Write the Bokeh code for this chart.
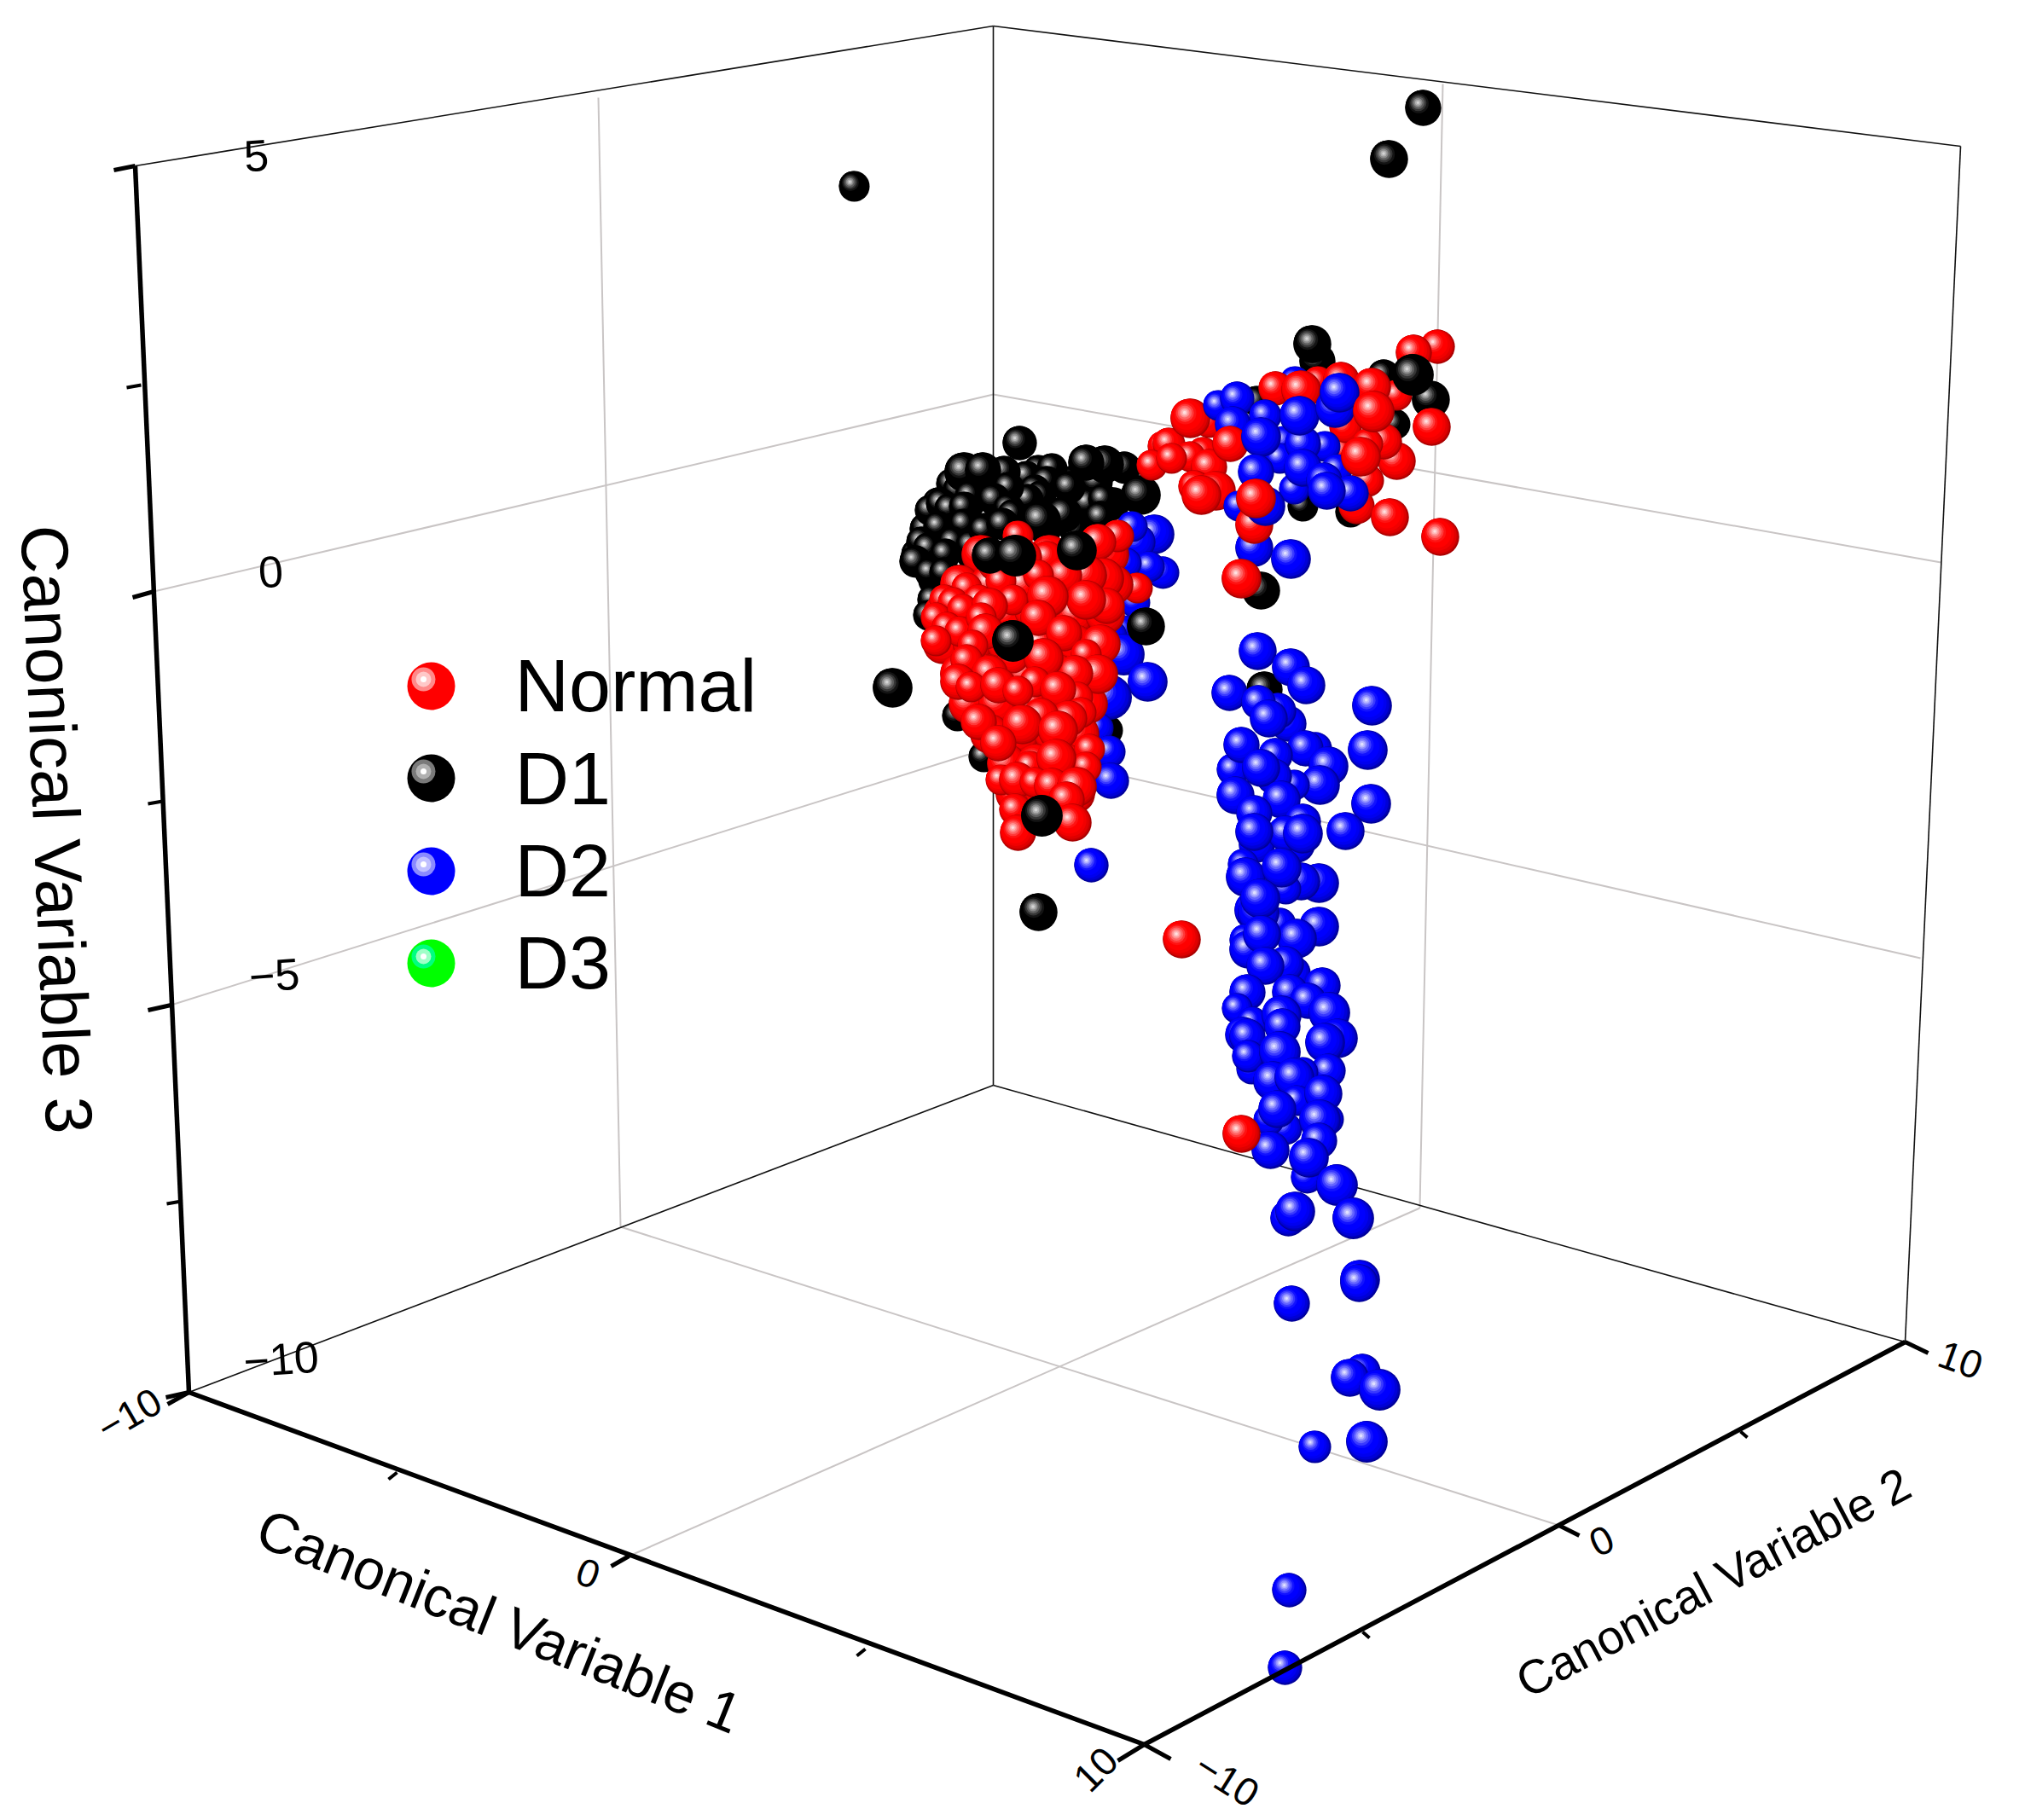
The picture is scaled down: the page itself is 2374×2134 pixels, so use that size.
from bokeh.plotting import figure
from bokeh.models import Range1d
from bokeh.core.properties import value
from bokeh.embed import file_html
from bokeh.resources import INLINE

FONT = "Liberation Sans"
# Projected positions of the spheres on the picture plane (x, y, apparent radius), back to front.
d1_fill_x = [1125,1160,1195,1225,1255,1285,1100,1135,1170,1205,1240,1275,1305,1085,1120,1155,1190,1225,1260,1290,1075,1105,1140,1095,1130]
d1_fill_y = [565,565,565,565,565,565,590,590,590,590,590,590,590,620,620,620,620,620,620,620,650,650,650,680,680]
d1_fill_r = [18,18,18,18,18,18,18,18,18,18,18,18,18,18,18,18,18,18,18,18,18,18,18,18,18]
d1_back_x = [1195,1217,1203,1233,1227,1213,1220,1205,1318,1295,1273,1253,1293,1177,1115,1123,1130,1152,1182,1137,1165,1090,1103,1113,1130,1182,1187,1100,1130,1080,1088,1117,1138,1153,1108,1073,1090,1107,1175,1247,1290,1220,1093,1088,1122,1153,1298,1337]
d1_back_y = [519,551,558,549,564,574,581,585,548,544,542,571,585,553,567,574,553,551,571,581,585,598,590,596,594,596,603,617,614,635,642,635,639,621,649,658,671,671,614,603,606,610,703,721,839,887,856,580]
d1_back_r = [19,13,12,17,15,12,13,12,18,21,20,18,17,18,15,15,22,20,15,17,18,15,15,13,17,17,13,15,17,13,13,13,13,15,15,18,13,17,18,20,18,22,13,10,17,17,10,22]
d2_left_x = [1353,1333,1327,1363,1347,1320,1330,1317,1300,1317,1345,1300,1287,1300,1302,1279]
d2_left_y = [626,635,617,671,664,660,706,739,746,767,799,817,853,881,915,1014]
d2_left_r = [22,20,17,18,17,13,13,10,20,23,22,25,13,18,20,19]
d1_mid_x = [1343]
d1_mid_y = [734]
d1_mid_r = [21]
normal_tip_x = [1333]
normal_tip_y = [689]
normal_tip_r = [13]
normal_fill_x = [1150,1190,1230,1270,1300,1125,1160,1200,1240,1280,1305,1105,1140,1180,1220,1260,1295,1105,1140,1180,1220,1260,1290,1125,1160,1200,1240,1280,1135,1170,1210,1250,1275,1160,1195,1235,1265,1180,1215,1250,1190,1225,1260]
normal_fill_y = [650,650,650,650,650,685,685,685,685,685,685,720,720,720,720,720,720,755,755,755,755,755,755,790,790,790,790,790,825,825,825,825,825,860,860,860,860,895,895,895,930,930,930]
normal_fill_r = [22,22,22,22,22,22,22,22,22,22,22,22,22,22,22,22,22,22,22,22,22,22,22,22,22,22,22,22,22,22,22,22,22,22,22,22,22,22,22,22,22,22,22]
normal_main_x = [1193,1310,1287,1227,1200,1167,1293,1273,1247,1217,1173,1297,1273,1207,1187,1228,1133,1107,1117,1097,1147,1128,1160,1110,1125,1097,1150,1217,1247,1155,1140,1133,1273,1287,1260,1187,1160,1223,1123,1138,1170,1213,1193,1263,1240,1267,1253,1220,1147,1198,1240,1170,1277,1207,1273,1238,1173,1192,1213,1233,1262,1250,1190,1257,1193]
normal_main_y = [628,628,635,653,653,660,678,674,674,674,681,710,703,717,703,699,689,703,706,724,703,714,710,735,740,751,724,724,742,740,756,774,767,790,789,771,789,771,799,805,803,799,810,817,808,835,842,839,846,849,856,871,878,898,899,889,914,914,917,921,922,937,949,964,976]
normal_main_r = [13,18,20,18,20,20,23,23,20,17,15,20,22,17,17,23,17,17,13,12,17,12,20,13,12,13,13,20,20,20,17,18,17,22,20,17,20,22,20,17,20,17,17,13,20,13,20,20,20,22,22,20,15,12,17,22,15,20,13,20,22,20,18,21,20]
d1_front_x = [1187,1160,1190,1262,1221,1046,1217]
d1_front_y = [751,651,651,645,956,806,1069]
d1_front_r = [23,20,23,22,23,22,21]
d1_top_x = [1001,1668,1628]
d1_top_y = [218,126,186]
d1_top_r = [17,20,21]
d1_right_x = [1544,1538,1622,1677,1635,1527,1583,1478,1473]
d1_right_y = [423,403,440,468,497,593,600,692,470]
d1_right_r = [20,21,18,21,10,15,17,21,12]
d2_upper_back_x = [1518]
d2_upper_back_y = [447]
d2_upper_back_r = [17]
normal_upper_back_x = [1545,1572,1495,1525,1637,1417,1363,1370,1410,1395,1350,1373,1417,1400,1425,1408,1395,1573,1577,1637,1622,1603,1603,1590]
normal_upper_back_y = [447,445,455,457,463,495,523,520,530,535,545,537,547,570,575,580,490,528,500,540,517,520,563,593]
normal_upper_back_r = [17,20,19,22,17,12,15,18,17,12,14,17,20,18,22,22,22,13,18,21,20,17,18,20]
d2_upper_a_x = [1428,1450,1445,1452]
d2_upper_a_y = [475,467,497,593]
d2_upper_a_r = [17,19,20,13]
normal_upper_a_x = [1442]
normal_upper_a_y = [520]
normal_upper_a_r = [20]
d2_upper_b_x = [1505,1500,1553,1483,1478,1472,1517,1527,1527,1523,1567]
d2_upper_b_y = [517,537,523,487,512,553,573,520,548,487,550]
d2_upper_b_r = [13,12,13,18,22,20,17,20,21,22,17]
normal_upper_b_x = [1608]
normal_upper_b_y = [453]
normal_upper_b_r = [21]
d2_upper_c_x = [1565,1570]
d2_upper_c_y = [478,460]
d2_upper_c_r = [22,22]
normal_upper_c_x = [1610,1595]
normal_upper_c_y = [482,535]
normal_upper_c_r = [23,22]
d2_upper_d_x = [1552,1583,1555,1470,1513]
d2_upper_d_y = [563,578,575,642,655]
d2_upper_d_r = [20,20,21,21,22]
normal_upper_d_x = [1470]
normal_upper_d_y = [615]
normal_upper_d_r = [21]
d2_upper_e_x = [1483]
d2_upper_e_y = [593]
d2_upper_e_r = [22]
normal_upper_e_x = [1472,1685,1657]
normal_upper_e_y = [584,406,413]
normal_upper_e_r = [22,19,20]
d1_upper_front_x = [1656]
d1_upper_front_y = [439]
d1_upper_front_r = [23]
normal_upper_f_x = [1678,1629,1688,1455,1385]
normal_upper_f_y = [500,606,629,678,1101]
normal_upper_f_r = [21,21,21,22,21]
d1_column_x = [1482]
d1_column_y = [808]
d1_column_r = [20]
d2_column_x = [1474,1513,1531,1441,1608,1603,1607,1577,1510,1498,1475,1487,1542,1530,1557,1547,1495,1517,1445,1455,1493,1478,1448,1502,1470,1473,1520,1527,1507,1527,1470,1546,1525,1507,1457,1460,1502,1470,1500,1475,1477,1546,1460,1463,1520,1479,1517,1507,1483,1550,1512,1462,1450,1533,1558,1468,1568,1502,1503,1457,1462,1553,1467,1463,1500,1557,1527,1492,1517,1520,1551,1557,1507,1487,1547,1497,1546,1489,1532,1534,1567,1510,1518,1586,1594,1593,1514,1597,1582,1617,1541,1602,1511,1506]
d2_column_y = [763,782,803,812,827,879,942,974,848,833,823,842,877,877,898,920,885,920,902,873,910,900,932,937,953,990,990,963,977,977,975,1035,1033,1042,1013,1028,1017,1067,1083,1070,1053,1086,1102,1113,1100,1095,1140,1130,1132,1155,1163,1163,1182,1173,1187,1198,1217,1190,1203,1213,1215,1222,1253,1238,1233,1255,1257,1267,1263,1290,1282,1312,1323,1313,1313,1300,1337,1348,1380,1357,1389,1428,1420,1428,1500,1504,1528,1608,1615,1629,1696,1690,1864,1955]
d2_column_r = [21,21,21,20,22,22,22,21,20,20,19,21,18,20,22,22,19,15,18,20,20,21,21,21,20,20,20,20,20,22,21,22,21,17,13,22,22,22,18,23,22,22,18,21,22,21,18,20,21,20,20,20,17,20,23,17,22,22,20,20,20,22,17,18,23,19,17,22,22,17,21,17,18,17,23,21,20,21,18,22,23,20,22,23,22,21,20,20,21,23,18,23,19,19]
normal_low_x = [1455]
normal_low_y = [1329]
normal_low_r = [21]

legend_labels = ["Normal", "D1", "D2", "D3"]
legend_marker_x = [505, 505, 505, 505]
legend_marker_y = [804, 912, 1021, 1129]
legend_label_x = [603, 603, 603, 603]
legend_label_y = [803, 912, 1020, 1128]

# Frame of the 3D box
thick_x = [[158,221],[221,1341],[1341,2233]]
thick_y = [[194,1632],[1632,2045],[2045,1573]]
thin_x = [[158,1164],[1164,2298],[1164,1164],[2298,2233],[221,1164],[1164,2233]]
thin_y = [[194,30],[30,171],[30,1272],[171,1573],[1632,1272],[1272,1573]]
grid_x = [[180,1164],[200,1164],[1164,2275],[1164,2251],[701,727],[1691,1664],[737,1664],[1827,727]]
grid_y = [[693,462],[1178,875],[462,659],[875,1123],[114,1438],[98,1416],[1824,1416],[1788,1438]]
tick_major_x = [[133,158],[155,180],[173,200],[194,221],[196,221],[716,737],[1310,1341],[1341,1372],[1827,1851],[2233,2260]]
tick_major_y = [[199,194],[700,693],[1184,1178],[1638,1632],[1646,1632],[1836,1824],[2064,2045],[2045,2062],[1788,1800],[1573,1586]]
tick_minor_x = [[148,165],[173,190],[195,212],[455,465],[1004,1014],[1597,1605],[2040,2048]]
tick_minor_y = [[454,451],[942,939],[1411,1408],[1734,1726],[1941,1933],[1913,1920],[1678,1685]]

z_tick_text = ["5", "0", "\u22125", "\u221210"]
z_tick_x = [300, 317, 321, 329]
z_tick_y = [182, 670, 1143, 1593]
x_tick_text = ["\u221210", "0", "10"]
x_tick_x = [151, 689, 1284]
x_tick_y = [1658, 1844, 2074]
y_tick_text = ["\u221210", "0", "10"]
y_tick_x = [1438, 1877, 2298]
y_tick_y = [2086, 1806, 1594]

axis_titles = ["Canonical Variable 1", "Canonical Variable 2", "Canonical Variable 3"]
axis_title_x = [585, 2008, 66]
axis_title_y = [1900, 1855, 972]
axis_title_angle = [-21.7, 27.8, -87.6]
axis_title_size = ["66px", "56px", "78px"]

SHADES = {
    "normal": ["#a80000","#c80000","#e00000","#f20000","#ff0000","#ff1212","#ff3a3a","#ff6464","#ff9090","#ffb8b8","#ffe0e0"],
    "d1": ["#000000","#000000","#000000","#000000","#000000","#141414","#363636","#5e5e5e","#8a8a8a","#b0b0b0","#d4d4d4"],
    "d2": ["#000098","#0000b8","#0000d8","#0000f0","#0000ff","#1212ff","#3a3aff","#6464ff","#9090ff","#b8b8ff","#e0e0ff"],
}
LAYER_SIZE = [1.0, 0.96, 0.92, 0.85, 0.75, 0.55, 0.45, 0.35, 0.25, 0.16, 0.08]
LAYER_SHIFT = [0.0, 0.03, 0.06, 0.12, 0.17, 0.25, 0.27, 0.28, 0.29, 0.29, 0.29]
MIN_RADIUS = 17
RADIUS_GAIN = 1.06

order = [
    ("d1", d1_top_x, d1_top_y, d1_top_r),
    ("d1", d1_fill_x, d1_fill_y, d1_fill_r),
    ("d1", d1_back_x, d1_back_y, d1_back_r),
    ("d2", d2_left_x, d2_left_y, d2_left_r),
    ("d1", d1_mid_x, d1_mid_y, d1_mid_r),
    ("normal", normal_tip_x, normal_tip_y, normal_tip_r),
    ("normal", normal_fill_x, normal_fill_y, normal_fill_r),
    ("normal", normal_main_x, normal_main_y, normal_main_r),
    ("d1", d1_front_x, d1_front_y, d1_front_r),
    ("d1", d1_right_x, d1_right_y, d1_right_r),
    ("d2", d2_upper_back_x, d2_upper_back_y, d2_upper_back_r),
    ("normal", normal_upper_back_x, normal_upper_back_y, normal_upper_back_r),
    ("d2", d2_upper_a_x, d2_upper_a_y, d2_upper_a_r),
    ("normal", normal_upper_a_x, normal_upper_a_y, normal_upper_a_r),
    ("d2", d2_upper_b_x, d2_upper_b_y, d2_upper_b_r),
    ("normal", normal_upper_b_x, normal_upper_b_y, normal_upper_b_r),
    ("d2", d2_upper_c_x, d2_upper_c_y, d2_upper_c_r),
    ("normal", normal_upper_c_x, normal_upper_c_y, normal_upper_c_r),
    ("d2", d2_upper_d_x, d2_upper_d_y, d2_upper_d_r),
    ("normal", normal_upper_d_x, normal_upper_d_y, normal_upper_d_r),
    ("d2", d2_upper_e_x, d2_upper_e_y, d2_upper_e_r),
    ("normal", normal_upper_e_x, normal_upper_e_y, normal_upper_e_r),
    ("d1", d1_upper_front_x, d1_upper_front_y, d1_upper_front_r),
    ("normal", normal_upper_f_x, normal_upper_f_y, normal_upper_f_r),
    ("d1", d1_column_x, d1_column_y, d1_column_r),
    ("d2", d2_column_x, d2_column_y, d2_column_r),
    ("normal", normal_low_x, normal_low_y, normal_low_r),
]

p = figure(width=2358, height=2126, x_range=Range1d(0, 2358), y_range=Range1d(2126, 0),
           x_axis_type=None, y_axis_type=None, toolbar_location=None, output_backend="svg",
           min_border=0, outline_line_color=None, background_fill_color="white")
p.grid.visible = False

p.multi_line(grid_x, grid_y, line_color="#c9c5c5", line_width=2)
p.multi_line(thin_x, thin_y, line_color="#111111", line_width=1.6)

LEG = [("normal", "#ff0000", "#ff8a8a", "#ffc8c8"), ("d1", "#000000", "#7a7a7a", "#b0b0b0"),
       ("d2", "#0000ff", "#8a8aff", "#c0c0ff"), ("d3", "#00ff00", "#00ff80", "#a0ffc8")]
for (name, base, ring, inner), lx, ly in zip(LEG, legend_marker_x, legend_marker_y):
    p.circle([lx], [ly], radius=28, fill_color=base, line_color=None)
    p.circle([lx - 9], [ly - 8], radius=14, fill_color=ring, line_color=None)
    p.circle([lx - 9], [ly - 8], radius=9, fill_color=inner, line_color=None)
    p.circle([lx - 9], [ly - 8], radius=3.5, fill_color="#ffffff", line_color=None)

xs, ys, rs, cs = [], [], [], []
for key, gx, gy, gr in order:
    for cx, cy, r in zip(gx, gy, gr):
        r = max(r, MIN_RADIUS) * RADIUS_GAIN
        for k, shift, col in zip(LAYER_SIZE, LAYER_SHIFT, SHADES[key]):
            xs.append(cx - shift * r)
            ys.append(cy - shift * r)
            rs.append(k * r)
            cs.append(col)
p.circle(xs, ys, radius=rs, fill_color=cs, line_color=None)

p.multi_line(thick_x, thick_y, line_color="#000000", line_width=5.5)
p.multi_line(tick_major_x, tick_major_y, line_color="#000000", line_width=5)
p.multi_line(tick_minor_x, tick_minor_y, line_color="#000000", line_width=4)

font = value(FONT)
p.text(legend_label_x, legend_label_y, text=legend_labels, text_font=font, text_font_size="88px",
       text_color="#000000", text_align="left", text_baseline="middle")
p.text(z_tick_x, z_tick_y, text=z_tick_text, text_font=font, text_font_size="52px",
       text_color="#000000", text_align="center", text_baseline="middle", angle=4, angle_units="deg")
p.text(x_tick_x, x_tick_y, text=x_tick_text, text_font=font, text_font_size="46px", text_color="#000000",
       text_align="center", text_baseline="middle", angle=[30, -20, 45], angle_units="deg")
p.text(y_tick_x, y_tick_y, text=y_tick_text, text_font=font, text_font_size="46px", text_color="#000000",
       text_align="center", text_baseline="middle", angle=[-32, 25, -20], angle_units="deg")
for t, tx, ty, ta, ts in zip(axis_titles, axis_title_x, axis_title_y, axis_title_angle, axis_title_size):
    p.text([tx], [ty], text=[t], text_font=font, text_font_size=value(ts), text_color="#000000",
           text_align="center", text_baseline="middle", angle=ta, angle_units="deg")

open("out.html", "w").write(file_html(p, INLINE))
